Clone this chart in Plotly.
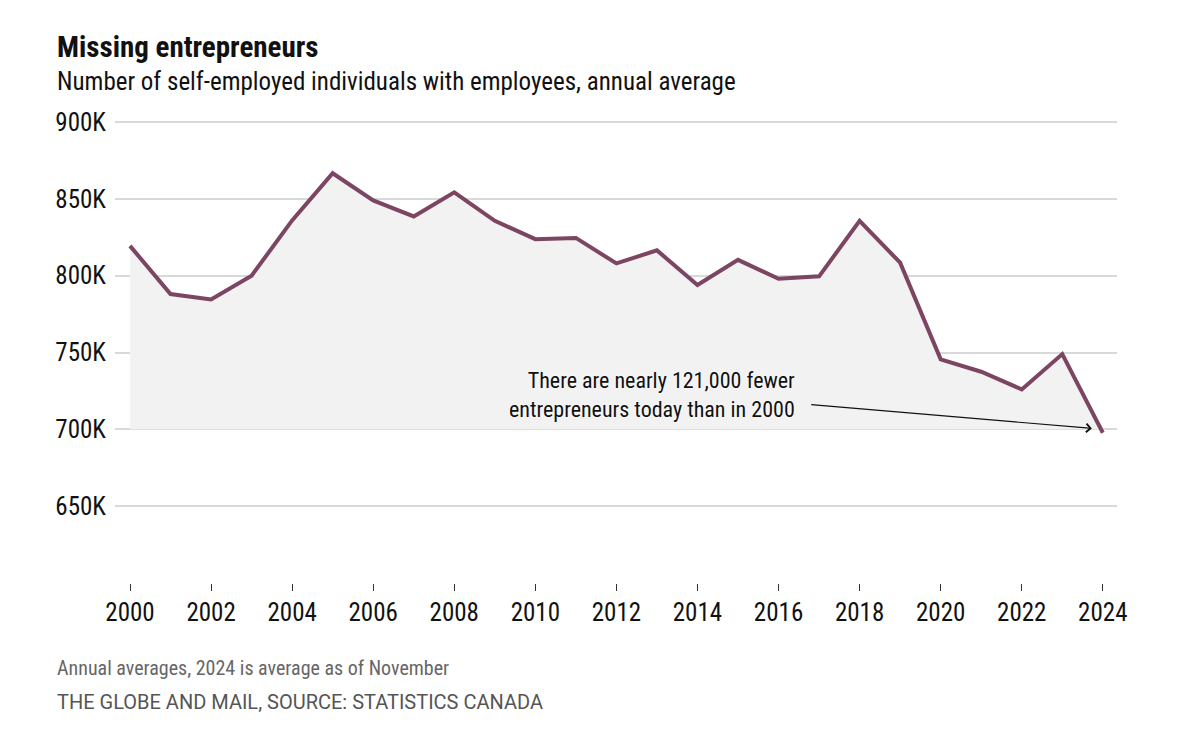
import plotly.graph_objects as go

years = list(range(2000, 2025))
self_employed = [819400, 788100, 784600, 800000, 836000, 866700, 849000, 838600,
                 854300, 835700, 823800, 824600, 808000, 816500, 794000, 810300,
                 798000, 799600, 835700, 808500, 745600, 737500, 726000, 749000,
                 697800]
fill_base = 700000
y_ticks = [650000, 700000, 750000, 800000, 850000, 900000]
y_tick_labels = ["650K", "700K", "750K", "800K", "850K", "900K"]
x_ticks = list(range(2000, 2025, 2))
x_tick_labels = [str(y) for y in x_ticks]

FONT = "Roboto Condensed, Roboto, sans-serif"
FONT2 = "Roboto, sans-serif"
LINE = "#7c4562"

fig = go.Figure()
fig.add_trace(go.Scatter(x=years, y=[fill_base] * len(years), mode="lines",
                         line=dict(width=0, color="rgba(0,0,0,0)"),
                         hoverinfo="skip", showlegend=False))
fig.add_trace(go.Scatter(x=years, y=self_employed, mode="lines",
                         fill="tonexty", fillcolor="#f2f2f2",
                         line=dict(color=LINE, width=4),
                         showlegend=False))

OFF = 8  # page body margin
W, H = 1200 - OFF, 746 - OFF
L, T = 115 - OFF, 119 - OFF
R = W - (1117 - OFF)
B = H - (583 - OFF)
pw, ph = W - L - R, H - T - B


def px(x):
    return (x - OFF - L) / pw


def py(y):
    return (H - B - (y - OFF)) / ph


fig.update_layout(
    width=W, height=H,
    margin=dict(l=L, r=R, t=T, b=B),
    paper_bgcolor="white", plot_bgcolor="white",
    font=dict(family=FONT, color="#111111"),
    xaxis=dict(range=[1999.63, 2024.35], tickvals=x_ticks, ticktext=x_tick_labels,
               showgrid=False, zeroline=False, showline=False,
               ticks="outside", ticklen=7, tickwidth=1, tickcolor="#333333",
               tickfont=dict(size=25, color="#111111", family=FONT)),
    yaxis=dict(range=[600000, 902000], tickvals=y_ticks, ticktext=y_tick_labels,
               showgrid=True, gridcolor="#d9d9d9", gridwidth=1.5,
               zeroline=False, showline=False, ticks="", ticklabelstandoff=8,
               tickfont=dict(size=25, color="#111111", family=FONT)),
    annotations=[
        dict(xref="paper", yref="paper", x=px(55), y=py(47), xanchor="left", yanchor="middle",
             text="<b>Missing entrepreneurs</b>", showarrow=False,
             font=dict(size=29, color="#111111", family=FONT)),
        dict(xref="paper", yref="paper", x=px(55), y=py(81), xanchor="left", yanchor="middle",
             text="Number of self-employed individuals with employees, annual average", showarrow=False,
             font=dict(size=25, color="#111111", family=FONT)),
        dict(xref="paper", yref="paper", x=px(55), y=py(668), xanchor="left", yanchor="middle",
             text="Annual averages, 2024 is average as of November", showarrow=False,
             font=dict(size=20, color="#666666", family=FONT)),
        dict(xref="paper", yref="paper", x=px(55), y=py(702), xanchor="left", yanchor="middle",
             text="THE GLOBE AND MAIL, SOURCE: STATISTICS CANADA", showarrow=False,
             font=dict(size=20, color="#555555", family=FONT2)),
        dict(xref="x", yref="y", x=2016.45, y=722400,
             xanchor="right", yanchor="middle", align="right",
             text="There are nearly 121,000 fewer<br>entrepreneurs today than in 2000",
             showarrow=False,
             font=dict(size=22, color="#111111", family=FONT, shadow="0px 0px 3px white")),
        dict(xref="x", yref="y", x=2023.73, y=700600, axref="x", ayref="y",
             ax=2016.77, ay=716200, text="", showarrow=True,
             arrowhead=4, arrowsize=1.4, arrowwidth=1.2, arrowcolor="#111111",
             standoff=0, startstandoff=0),
    ],
)

fig.write_html("out.html")
